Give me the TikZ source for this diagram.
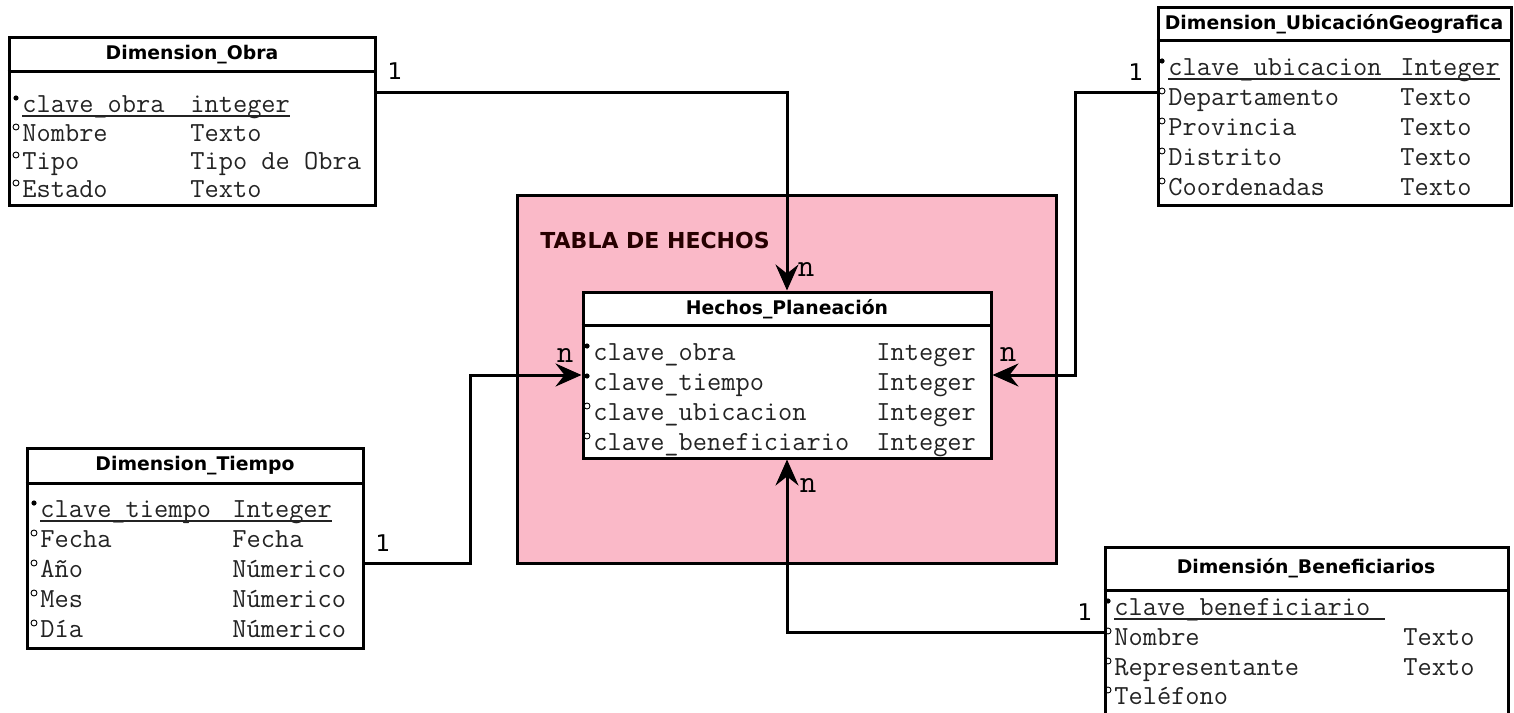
\documentclass[tikz,border=0pt]{standalone}
\usepackage{fontspec}
\newfontfamily\monof{Latin Modern Mono}
\newfontfamily\sansf{DejaVu Sans}
\usetikzlibrary{arrows.meta,fit}
\definecolor{pinkbg}{RGB}{250,185,200}
\definecolor{txt}{RGB}{35,35,35}
\tikzset{
  box/.style={draw, line width=1.5pt, fill=white, inner sep=0pt},
  sepline/.style={line width=1.5pt},
  fld/.style={font=\monof\fontsize{13.8}{16}\selectfont, text=txt, inner sep=0pt, anchor=base west},
  ttl/.style={font=\sansf\bfseries\fontsize{9.4}{11}\selectfont, inner sep=0pt},
  card/.style={font=\sansf\fontsize{11.5}{13}\selectfont, inner sep=0pt},
  mult/.style={font=\monof\fontsize{16}{18}\selectfont, inner sep=0pt},
  keydot/.style={circle, fill=black, inner sep=0pt, minimum size=2.6pt},
  attdot/.style={circle, draw=black, line width=0.45pt, inner sep=0pt, minimum size=3pt},
  conn/.style={line width=1.5pt, -{Stealth[length=13pt,width=11.5pt,inset=4.5pt]}},
  uline/.style={line width=0.8pt, draw=txt},
}
\newcommand\fname[5]{%
  \node[#4] (#1m) at (#2-6,#3-14) {};
  \node[fld] (#1) at (#2,#3) {#5};}
\newcommand\ftype[4]{\node[fld] (#1) at (#2,#3) {#4};}
\begin{document}
\begin{tikzpicture}[x=0.5pt,y=-0.5pt]
\useasboundingbox (0,0) rectangle (1514,712);
\clip (0,0) rectangle (1514,712);
\fill[white] (0,0) rectangle (1514,712);

% fact area
\node[draw, line width=1.5pt, fill=pinkbg, inner sep=0pt, fit={(517,195) (1056,563)}] (pinkarea) {};
\node[font=\sansf\bfseries\fontsize{11}{13}\selectfont, anchor=west, inner sep=0pt, text=black!85!red] (tablaT) at (540,240) {TABLA DE HECHOS};

% coordinates for connectors
\coordinate (yO) at (0,92);
\coordinate (yU) at (0,92);
\coordinate (xU) at (1075,0);
\coordinate (yT) at (0,563);
\coordinate (xT) at (470,0);
\coordinate (yB) at (0,632);

% Dimension_Obra
\node[box, fit={(9,37) (375,205)}] (obra) {};
\coordinate (obraH) at (0,71);
\draw[sepline] (obra.west |- obraH) -- (obra.east |- obraH);
\node[ttl] (obraT) at (192,55) {Dimension\_Obra};
\fname{o1}{22}{112}{keydot}{clave\_obra}\ftype{o1t}{190}{112}{integer}
\fname{o2}{22}{141}{attdot}{Nombre}\ftype{o2t}{190}{141}{Texto}
\fname{o3}{22}{169}{attdot}{Tipo}\ftype{o3t}{190}{169}{Tipo de Obra}
\fname{o4}{22}{197}{attdot}{Estado}\ftype{o4t}{190}{197}{Texto}
\draw[uline] ([yshift=-2pt]o1.base west) -- ([yshift=-2pt]o1t.base east);

% Dimension_UbicacionGeografica
\node[box, fit={(1158,7) (1511,205)}] (ubic) {};
\coordinate (ubicH) at (0,40);
\draw[sepline] (ubic.west |- ubicH) -- (ubic.east |- ubicH);
\node[ttl] (ubicT) at (1334,24) {Dimension\_UbicaciónGeografica};
\fname{u1}{1168}{75}{keydot}{clave\_ubicacion}\ftype{u1t}{1400}{75}{Integer}
\fname{u2}{1168}{105}{attdot}{Departamento}\ftype{u2t}{1400}{105}{Texto}
\fname{u3}{1168}{135}{attdot}{Provincia}\ftype{u3t}{1400}{135}{Texto}
\fname{u4}{1168}{165}{attdot}{Distrito}\ftype{u4t}{1400}{165}{Texto}
\fname{u5}{1168}{195}{attdot}{Coordenadas}\ftype{u5t}{1400}{195}{Texto}
\draw[uline] ([yshift=-2pt]u1.base west) -- ([yshift=-2pt]u1t.base east);

% Dimension_Tiempo
\node[box, fit={(27,448) (363,648)}] (tiempo) {};
\coordinate (tiempoH) at (0,483);
\draw[sepline] (tiempo.west |- tiempoH) -- (tiempo.east |- tiempoH);
\node[ttl] (tiempoT) at (195,466) {Dimension\_Tiempo};
\fname{t1}{40}{517}{keydot}{clave\_tiempo}\ftype{t1t}{232}{517}{Integer}
\fname{t2}{40}{547}{attdot}{Fecha}\ftype{t2t}{232}{547}{Fecha}
\fname{t3}{40}{577}{attdot}{Año}\ftype{t3t}{232}{577}{Númerico}
\fname{t4}{40}{607}{attdot}{Mes}\ftype{t4t}{232}{607}{Númerico}
\fname{t5}{40}{637}{attdot}{Día}\ftype{t5t}{232}{637}{Númerico}
\draw[uline] ([yshift=-2pt]t1.base west) -- ([yshift=-2pt]t1t.base east);

% Dimension_Beneficiarios
\node[box, fit={(1105,547) (1508,730)}] (benef) {};
\coordinate (benefH) at (0,590);
\draw[sepline] (benef.west |- benefH) -- (benef.east |- benefH);
\node[ttl] (benefT) at (1306,568) {Dimensión\_Beneficiarios};
\fname{b1}{1114}{615}{keydot}{clave\_beneficiario\ \ }
\fname{b2}{1114}{645}{attdot}{Nombre}\ftype{b2t}{1403}{645}{Texto}
\fname{b3}{1114}{675}{attdot}{Representante}\ftype{b3t}{1403}{675}{Texto}
\fname{b4}{1114}{704}{attdot}{Teléfono}
\draw[uline] ([yshift=-2pt]b1.base west) -- ([yshift=-2pt]b1.base east);

% Hechos_Planeacion
\node[box, fit={(583,292) (991,458)}] (hechos) {};
\coordinate (hechosH) at (0,325);
\draw[sepline] (hechos.west |- hechosH) -- (hechos.east |- hechosH);
\node[ttl] (hechosT) at (787,309) {Hechos\_Planeación};
\fname{h1}{593}{360}{keydot}{clave\_obra}\ftype{h1t}{876}{360}{Integer}
\fname{h2}{593}{390}{keydot}{clave\_tiempo}\ftype{h2t}{876}{390}{Integer}
\fname{h3}{593}{420}{attdot}{clave\_ubicacion}\ftype{h3t}{876}{420}{Integer}
\fname{h4}{593}{450}{attdot}{clave\_beneficiario}\ftype{h4t}{876}{450}{Integer}

% connectors
\draw[conn] (obra.east |- yO) -| (hechos.north);
\draw[conn] (ubic.west |- yU) -- (xU |- yU) |- (hechos.east);
\draw[conn] (tiempo.east |- yT) -- (xT |- yT) |- (hechos.west);
\draw[conn] (benef.west |- yB) -| (hechos.south);

% cardinalities
\node[card] (c1) at (395,71) {1};
\node[card] (c2) at (1136,72) {1};
\node[card] (c3) at (383,543) {1};
\node[card] (c4) at (1085,612) {1};
\node[mult] (n1) at (806,270) {n};
\node[mult] (n2) at (1008,355) {n};
\node[mult] (n3) at (565,356) {n};
\node[mult] (n4) at (808,486) {n};
\end{tikzpicture}
\end{document}
